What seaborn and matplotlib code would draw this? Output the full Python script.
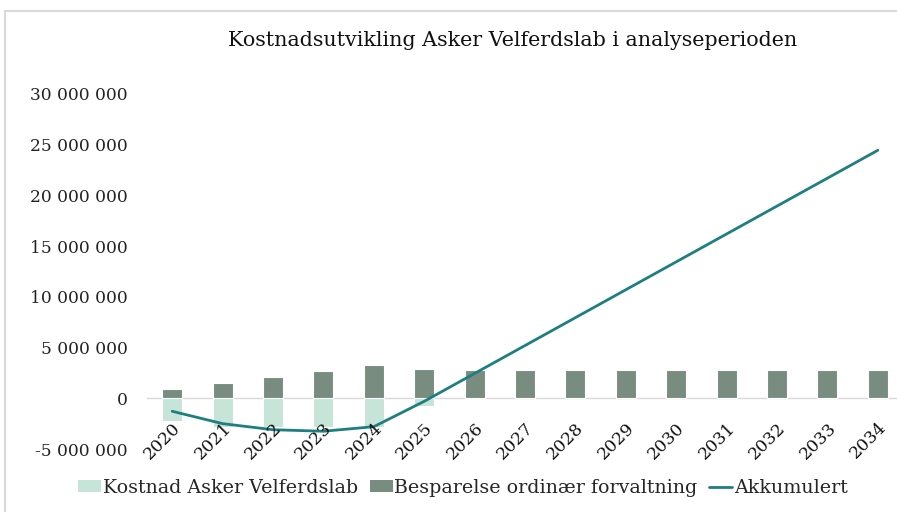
import numpy as np
import pandas as pd
import matplotlib
matplotlib.use("Agg")
import matplotlib.pyplot as plt
from matplotlib.patches import Rectangle, Patch
from matplotlib.lines import Line2D
from matplotlib.ticker import FuncFormatter, FixedLocator, FixedFormatter
import seaborn as sns

# ---- data ----
years = ["2020", "2021", "2022", "2023", "2024", "2025", "2026", "2027",
         "2028", "2029", "2030", "2031", "2032", "2033", "2034"]
kostnad = [-2.2e6, -2.8e6, -2.8e6, -2.8e6, -2.8e6, -0.75e6, -0.1e6, 0, 0, 0, 0, 0, 0, 0, 0]
besparelse = [0.9e6, 1.5e6, 2.1e6, 2.67e6, 3.26e6, 2.9e6, 2.76e6, 2.76e6, 2.76e6,
              2.76e6, 2.76e6, 2.76e6, 2.76e6, 2.76e6, 2.76e6]
akkumulert = [-1.28e6, -2.5e6, -3.1e6, -3.25e6, -2.8e6, -0.3e6, 2.45e6, 5.2e6,
              7.95e6, 10.7e6, 13.45e6, 16.2e6, 18.95e6, 21.7e6, 24.45e6]
title = "Kostnadsutvikling Asker Velferdslab i analyseperioden"
labels = ["Kostnad Asker Velferdslab", "Besparelse ordinær forvaltning", "Akkumulert"]
yticks = [-5e6, 0, 5e6, 10e6, 15e6, 20e6, 25e6, 30e6]

C_LIGHT = "#c6e4d8"
C_DARK = "#788c80"
C_LINE = "#1e7f80"
GRAY = "#d9d9d9"

sns.set_theme(style="white")
plt.rcParams["font.family"] = ["DejaVu Serif", "DejaVu Sans"]

W, H = 897, 512
fig = plt.figure(figsize=(W / 100, H / 100), dpi=100)
renderer = fig.canvas.get_renderer()


def fit_size(s, target_px, ref=20):
    t = fig.text(0, 0, s, fontsize=ref)
    w = t.get_window_extent(renderer=renderer).width
    t.remove()
    return ref * target_px / w


fs_title = fit_size(title, 570)
fs_leg = fit_size(labels[0], 254)
fs_y = fit_size("30 000 000", 98)
fs_x = fit_size("2020", 44)

# axes placement (pixels)
left_px, right_px, top_px, bot_px = 147, 903, 94, 449
ax = fig.add_axes([left_px / W, 1 - bot_px / H, (right_px - left_px) / W, (bot_px - top_px) / H])

df = pd.DataFrame({"year": years, "kostnad": kostnad, "besparelse": besparelse,
                   "akkumulert": akkumulert})

sns.barplot(data=df, x="year", y="kostnad", color=C_LIGHT, width=0.4, saturation=1,
            edgecolor="white", linewidth=0.8, ax=ax)
sns.barplot(data=df, x="year", y="besparelse", color=C_DARK, width=0.4, saturation=1,
            edgecolor="white", linewidth=0.8, ax=ax)
df["pos"] = np.arange(len(years))
sns.lineplot(data=df, x="pos", y="akkumulert", color=C_LINE, linewidth=2.0, ax=ax)

ax.set_xlim(-0.5, len(years) - 0.5)
ax.set_ylim(-5e6, 30e6)
ax.yaxis.set_major_locator(FixedLocator(yticks))
ax.yaxis.set_major_formatter(FuncFormatter(lambda v, p: f"{v:,.0f}".replace(",", " ")))
ax.xaxis.set_major_locator(FixedLocator(np.arange(len(years))))
ax.xaxis.set_major_formatter(FixedFormatter(years))
ax.set_xlabel("")
ax.set_ylabel("")
ax.tick_params(axis="y", length=0, pad=14, labelsize=fs_y, labelcolor="#222222")
ax.tick_params(axis="x", length=0, pad=15, labelsize=fs_x, labelcolor="#111111",
               labelrotation=45)
for s in ["top", "right", "left"]:
    ax.spines[s].set_visible(False)
ax.spines["bottom"].set_position(("data", 0))
ax.spines["bottom"].set_color(GRAY)
ax.spines["bottom"].set_linewidth(1.0)
ax.spines["bottom"].set_zorder(0.5)
ax.grid(False)
ax.set_axisbelow(False)
ax.set_facecolor("none")
if ax.get_legend():
    ax.get_legend().remove()

fig.canvas.draw()
for lab in ax.get_xticklabels():
    lab.set_horizontalalignment("right")
    lab.set_verticalalignment("top")
    lab.set_rotation_mode("anchor")
    lab.set_rotation(45)

fig.text(512.5 / W, 1 - 40 / H, title, ha="center", va="center", fontsize=fs_title, color="#111111")

handles = [Patch(facecolor=C_LIGHT, edgecolor="none"),
           Patch(facecolor=C_DARK, edgecolor="none"),
           Line2D([0], [0], color=C_LINE, linewidth=2)]
fig.legend(handles, labels, loc="center", bbox_to_anchor=(463 / W, 1 - 488 / H), ncol=3,
           frameon=False, fontsize=fs_leg, handlelength=1.2, handleheight=0.6,
           handletextpad=0.1, columnspacing=0.6)

# chart border
fig.add_artist(Rectangle((5 / W, -0.1), 1.2, 1.1 - 11 / H, transform=fig.transFigure,
                         fill=False, edgecolor=GRAY, linewidth=1.5))

fig.savefig("out.png", dpi=100, facecolor="white")
